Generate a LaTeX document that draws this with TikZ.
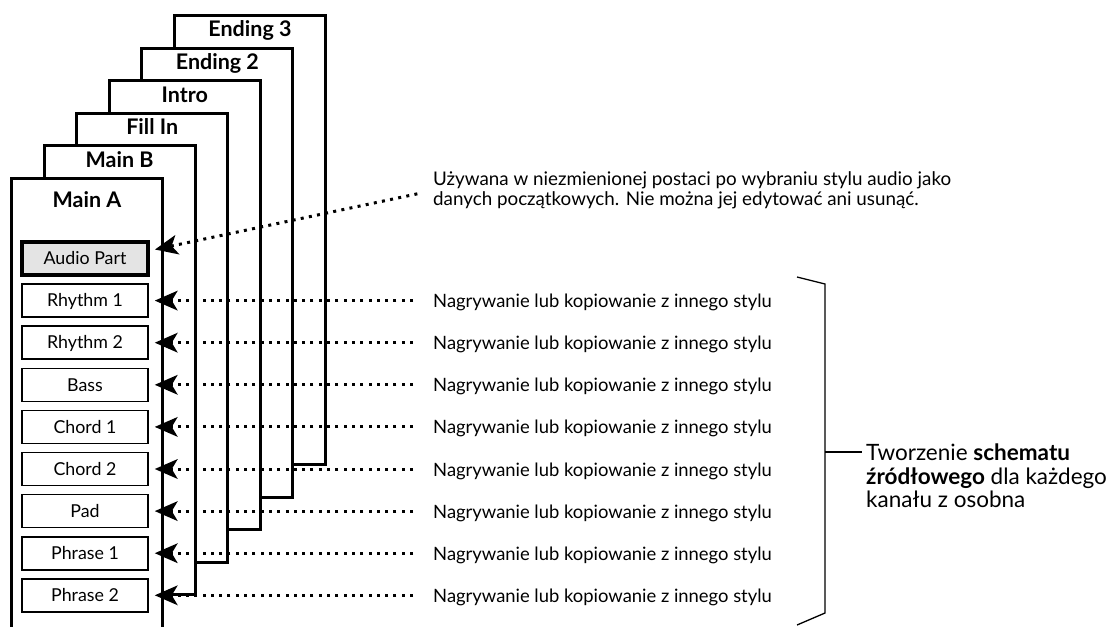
\documentclass[tikz,border=0pt]{standalone}
\usepackage{fontspec}
\setmainfont{Lato}
\usepackage{tikz}
\usetikzlibrary{positioning,arrows.meta,calc}
\definecolor{partgray}{HTML}{E4E4E4}

\begin{document}
\begin{tikzpicture}[
  x=1pt, y=-1pt,
  page/.style={draw=black, line width=3pt, fill=white, minimum width=151pt, minimum height=449pt, anchor=north west, inner sep=0pt},
  pagetitle/.style={font=\bfseries\fontsize{21.5}{24}\selectfont, anchor=base, inner sep=0pt},
  chan/.style={draw=black, line width=1.6pt, fill=white, minimum width=126pt, minimum height=33pt, inner sep=0pt, text height=12.5pt, text depth=0pt, font=\fontsize{17.8}{20}\selectfont},
  audio/.style={chan, line width=4pt, fill=partgray},
  dotarr/.style={line width=3pt, dash pattern=on 3pt off 5.3pt, -{Stealth[length=23pt, width=20pt, inset=6pt, line width=0pt]}},
  lab/.style={font=\fontsize{18.4}{21}\selectfont, anchor=base west, inner sep=0pt},
  note/.style={font=\fontsize{18.8}{19.5}\selectfont, align=left, anchor=west, inner sep=0pt},
  bracket/.style={line width=1.3pt},
]
  \clip (0,0) rectangle (1115,626);

  % stacked sections, back to front
  \foreach \i/\pg/\ttl in {5/endthree/Ending 3,4/endtwo/Ending 2,3/intro/Intro,2/fillin/Fill In,1/mainb/Main B}{
    \node[page] (\pg) at ({10+32.6*\i},{177-32.6*\i}) {};
    \node[pagetitle] (\pg-t) at ([yshift=-23pt]\pg.north) {\ttl};
  }
  \node[page, minimum height=470pt] (maina) at (10,177) {};
  \node[pagetitle] (maina-t) at ([yshift=-30pt]maina.north) {Main A};

  % channels
  \node[audio] (audio) at (85,258.5) {Audio Part};
  \foreach \nm [count=\i] in {Rhythm 1,Rhythm 2,Bass,Chord 1,Chord 2,Pad,Phrase 1,Phrase 2}{
    \node[chan] (ch\i) at (85,{258.5+42.1*\i}) {\nm};
    \node[lab] (lab\i) at (433,{258.5+42.1*\i+7}) {Nagrywanie lub kopiowanie z innego stylu};
    \draw[dotarr, shorten <=20pt, shorten >=6pt] (lab\i.west |- ch\i.east) -- (ch\i.east);
  }

  \node[note] (note) at (433,190.5) {Używana w niezmienionej postaci po wybraniu stylu audio jako\\danych początkowych. Nie można jej edytować ani usunąć.};
  \draw[dotarr, shorten <=16pt] (note.west) -- ([shift={(5pt,9pt)}]audio.east);

  % bracket
  \coordinate (brtop) at (797,277);
  \coordinate (brtopin) at (825,284);
  \coordinate (brbotin) at (825,613);
  \coordinate (brbot) at (797,625);
  \coordinate (brmid) at (825,452);
  \draw[bracket] (brtop) -- (brtopin) -- (brbotin) -- (brbot);
  \node[font=\fontsize{22.5}{23.5}\selectfont, align=left, anchor=west, inner sep=0pt] (summary) at (866,476)
    {Tworzenie \textbf{schematu}\\\textbf{źródłowego} dla każdego\\kanału z osobna};
  \draw[bracket] (brmid) -- (brmid -| summary.west) [shorten >=4pt];
\end{tikzpicture}
\end{document}
